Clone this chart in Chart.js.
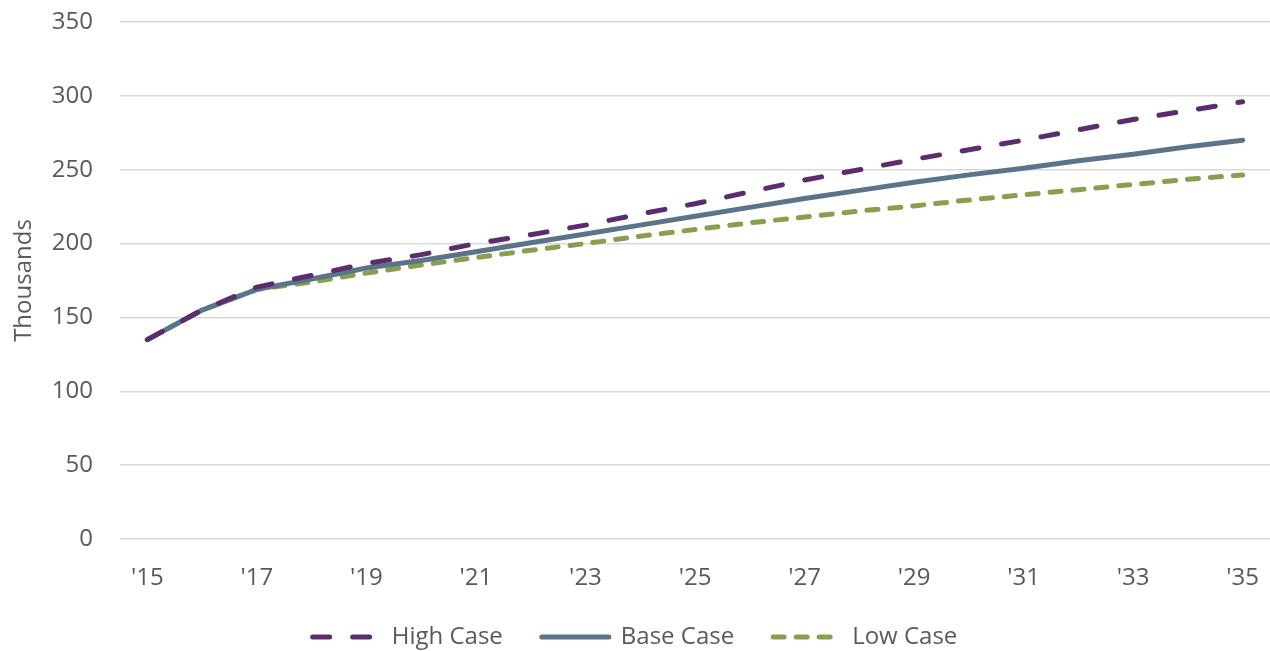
<!DOCTYPE html>
<html>
<head>
<meta charset="utf-8">
<script src="https://cdn.jsdelivr.net/npm/chart.js@4.4.1/dist/chart.umd.min.js"></script>
<style>
    html, body { margin: 0; padding: 0; background: #fff; }
    #wrap { width: 1270px; height: 651px; position: relative; }
</style>
</head>
<body>
<div id="wrap"><canvas id="chart"></canvas></div>
<script>
// Years on the x axis (only every other one gets a label)
const years = ["'15", "'16", "'17", "'18", "'19", "'20", "'21", "'22", "'23", "'24", "'25",
               "'26", "'27", "'28", "'29", "'30", "'31", "'32", "'33", "'34", "'35"];

// Values in thousands
const highCase = [135, 155, 170.5, 178.5, 186.5, 192.5, 200, 206, 212.5, 220, 227,
                  235, 243, 250, 257, 263.5, 270, 277, 284, 290, 296];
const baseCase = [135, 155, 169, 176, 183.5, 188.5, 194.5, 200.5, 206.5, 212.5, 218.5,
                  224.5, 230.5, 236, 241.5, 246.5, 251, 256, 260.5, 265.5, 270];
const lowCase  = [135, 155, 169, 174, 180, 185.5, 190.5, 195.5, 200, 205, 209.5,
                  214, 218, 222, 225.5, 229.5, 233, 236.5, 240, 243.5, 246.5];

const yTicks = [0, 50, 100, 150, 200, 250, 300, 350];

const COLORS = {
    high: "#5b2d6e",
    base: "#5b7489",
    low: "#88a04d",
    text: "#595959",
    grid: "#d9d9d9",
};
const FONT = "'Open Sans', 'Noto Sans', sans-serif";

function lineSeries(label, data, color, dash) {
    return {
        label,
        data,
        borderColor: color,
        backgroundColor: color,
        borderWidth: 5,
        borderDash: dash,
        borderCapStyle: "round",
        borderJoinStyle: "round",
        pointRadius: 0,
        pointHoverRadius: 0,
        tension: 0,
        fill: false,
    };
}

// Legend entries drawn as short line samples with the series' dash pattern
function legendLabels(chart) {
    const items = Chart.defaults.plugins.legend.labels.generateLabels(chart);
    return items.map(item => {
        const ds = chart.data.datasets[item.datasetIndex];
        return {
            ...item,
            pointStyle: "line",
            strokeStyle: ds.borderColor,
            lineWidth: ds.borderWidth,
            lineDash: ds.borderDash,
            lineCap: "round",
        };
    });
}

new Chart(document.getElementById("chart"), {
    type: "line",
    data: {
        labels: years,
        datasets: [
            lineSeries("High Case", highCase, COLORS.high, [17, 23]),
            lineSeries("Base Case", baseCase, COLORS.base, []),
            lineSeries("Low Case", lowCase, COLORS.low, [11, 12]),
        ],
    },
    options: {
        responsive: true,
        maintainAspectRatio: false,
        animation: false,
        layout: { padding: { top: 22, right: 0, left: 0, bottom: 0 } },
        plugins: {
            tooltip: { enabled: false },
            legend: {
                position: "bottom",
                maxHeight: 65,
                labels: {
                    color: COLORS.text,
                    font: { family: FONT, size: 24 },
                    usePointStyle: true,
                    pointStyleWidth: 67,
                    boxWidth: 67,
                    boxHeight: 10,
                    padding: 39,
                    generateLabels: legendLabels,
                },
            },
        },
        scales: {
            x: {
                offset: true,
                grid: { display: false },
                border: { display: false },
                ticks: {
                    color: COLORS.text,
                    font: { family: FONT, size: 24 },
                    autoSkip: false,
                    maxRotation: 0,
                    padding: 17,
                    callback: function (v, i) { return i % 2 === 0 ? this.getLabelForValue(v) : ""; },
                },
                afterFit: s => {
                    s.height = 47;
                    s.paddingLeft = 0;
                    s.paddingRight = 0;
                },
            },
            y: {
                min: 0,
                max: 350,
                afterBuildTicks: s => { s.ticks = yTicks.map(v => ({ value: v })); },
                grid: { color: COLORS.grid, lineWidth: 1.5, drawTicks: false },
                border: { display: false },
                ticks: {
                    color: COLORS.text,
                    font: { family: FONT, size: 24 },
                    padding: 27,
                },
                title: {
                    display: true,
                    text: "Thousands",
                    color: COLORS.text,
                    font: { family: FONT, size: 24 },
                    padding: { top: 10, bottom: 0 },
                },
                afterFit: s => {
                    s.width = 120;
                    s.paddingTop = 0;
                    s.paddingBottom = 0;
                },
            },
        },
    },
});
</script>
</body>
</html>
